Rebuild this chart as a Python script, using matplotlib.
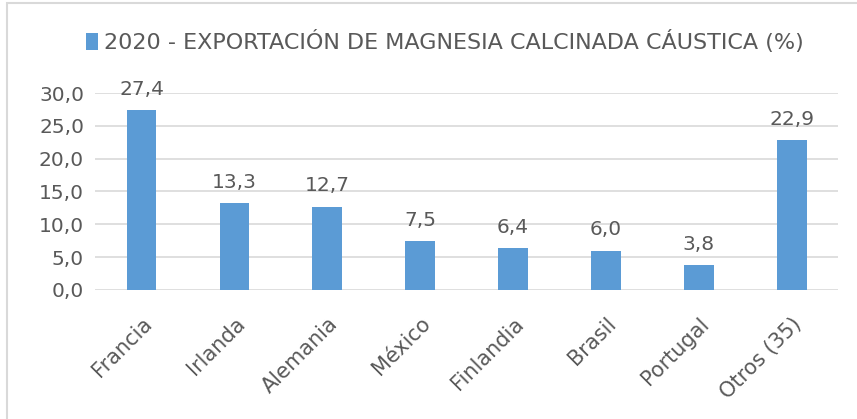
import matplotlib
matplotlib.use("Agg")
import numpy as np
import matplotlib.pyplot as plt
from matplotlib.patches import Rectangle

paises = ['Francia', 'Irlanda', 'Alemania', 'México', 'Finlandia', 'Brasil', 'Portugal', 'Otros (35)']
valores = [27.4, 13.3, 12.7, 7.5, 6.4, 6.0, 3.8, 22.9]
serie = '2020 - EXPORTACIÓN DE MAGNESIA CALCINADA CÁUSTICA (%)'

azul = '#5B9BD5'
gris_txt = '#595959'

plt.rcParams['font.family'] = ['DejaVu Sans']

fig = plt.figure(figsize=(8.57, 4.19), dpi=100)
ax = fig.add_axes([0.111, 0.308, 0.867, 0.47])

ind = np.arange(len(paises))
rects = ax.bar(ind, valores, 0.32, color=azul, label=serie, zorder=3)

ax.set_xlim(-0.5, len(paises) - 0.5)
ax.set_ylim(0, 30)
ax.set_yticks(np.arange(0, 31, 5))
ax.yaxis.set_major_formatter(matplotlib.ticker.FuncFormatter(lambda v, p: ('%.1f' % v).replace('.', ',')))
ax.grid(axis='y', color='#D9D9D9', linewidth=1.2, zorder=0)
for s in ax.spines.values():
    s.set_visible(False)
ax.tick_params(axis='both', length=0, labelcolor=gris_txt)
ax.tick_params(axis='y', pad=8, labelsize=14.5)

ax.set_xticks(ind)
ax.set_xticklabels(paises, rotation=45, ha='right', rotation_mode='anchor', fontsize=15)
ax.tick_params(axis='x', pad=17)

# etiquetas de datos
for rect in rects:
    h = rect.get_height()
    ax.annotate(('%.1f' % h).replace('.', ','), (rect.get_x() + rect.get_width() / 2, h),
                xytext=(0, 8), textcoords='offset points', ha='center', va='bottom',
                fontsize=14.5, color=gris_txt, annotation_clip=False)

leg = fig.legend(loc='center', bbox_to_anchor=(0.519, 0.9), frameon=False,
                 prop={'size': 16}, borderaxespad=0, borderpad=0,
                 handlelength=0.55, handleheight=0.8, handletextpad=0.25)
for t in leg.get_texts():
    t.set_color(gris_txt)

# marco del área del gráfico (sólo se ven borde superior e izquierdo)
fig.patches.append(Rectangle((7 / 857, -0.05), 1.1, 1 - 3 / 419 + 0.05, transform=fig.transFigure,
                             fill=False, edgecolor='#D9D9D9', linewidth=1.5))

fig.savefig('out.png', dpi=100)
